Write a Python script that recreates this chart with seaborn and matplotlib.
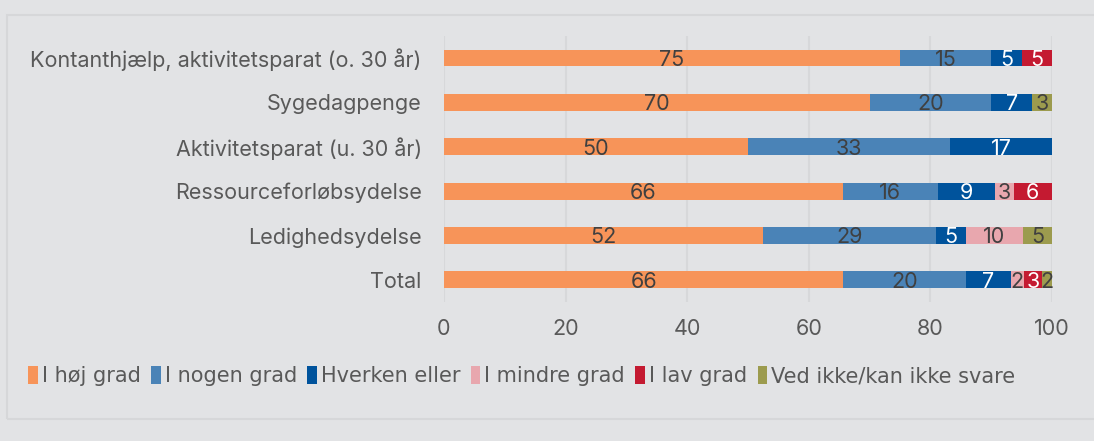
import matplotlib
matplotlib.use("Agg")
import matplotlib.pyplot as plt
import matplotlib.patches as mpatches
import seaborn as sns
import numpy as np

categories = ["Kontanthjælp, aktivitetsparat (o. 30 år)", "Sygedagpenge",
              "Aktivitetsparat (u. 30 år)", "Ressourceforløbsydelse",
              "Ledighedsydelse", "Total"]
series_names = ["I høj grad", "I nogen grad", "Hverken eller", "I mindre grad",
                "I lav grad", "Ved ikke/kan ikke svare"]
hoj_grad = [75.0, 70.0, 50.0, 65.6, 52.4, 65.7]
nogen_grad = [15.0, 20.0, 33.3, 15.6, 28.6, 20.2]
hverken = [5.0, 6.7, 16.7, 9.4, 4.8, 7.3]
mindre_grad = [0.0, 0.0, 0.0, 3.1, 9.5, 2.2]
lav_grad = [5.0, 0.0, 0.0, 6.3, 0.0, 3.0]
ved_ikke = [0.0, 3.3, 0.0, 0.0, 4.8, 1.6]
xticks = [0, 20, 40, 60, 80, 100]

colors = ["#F79459", "#4A83B7", "#00539C", "#E8A7AE", "#C41A31", "#9C9B4E"]
text_colors = ["#404040", "#404040", "#FFFFFF", "#404040", "#FFFFFF", "#404040"]

sns.set_theme(style="white")
plt.rcParams["font.family"] = ["Inter", "DejaVu Sans"]

BG = "#E2E3E5"
fig = plt.figure(figsize=(10.94, 4.41), dpi=100, facecolor=BG)
# panel border
fig.patches.append(mpatches.Rectangle((7 / 1094, 1 - 419 / 441), 1.2, (419 - 15) / 441,
                                      transform=fig.transFigure, facecolor="none",
                                      edgecolor="#D6D7D9", linewidth=1.5, zorder=-10))
ax = fig.add_axes([444 / 1094, 1 - 302 / 441, 608 / 1094, (302 - 35.8) / 441])
ax.set_facecolor(BG)
ax.patch.set_alpha(0)

data = np.array([hoj_grad, nogen_grad, hverken, mindre_grad, lav_grad, ved_ikke])
cum = np.cumsum(data, axis=0)

for i in range(len(series_names) - 1, -1, -1):
    sns.barplot(x=cum[i], y=categories, color=colors[i], orient="h", width=0.38,
                saturation=1, ax=ax, zorder=3, linewidth=0, edgecolor="none")

for i in range(len(series_names)):
    for j in range(len(categories)):
        v = data[i, j]
        if v <= 0:
            continue
        ax.text(cum[i, j] - v / 2, j, f"{v:.0f}", ha="center", va="center_baseline",
                fontsize=15.5, color=text_colors[i], zorder=5)

ax.set_xlim(0, 100)
ax.set_ylim(5.5, -0.5)
ax.set_xticks(xticks)
ax.set_xticklabels([str(t) for t in xticks])
ax.grid(axis="x", color="#D7D8DA", linewidth=1.5, zorder=0)
ax.set_axisbelow(True)
for s in ax.spines.values():
    s.set_visible(False)
ax.tick_params(axis="x", length=0, pad=12, labelsize=15.5, labelcolor="#595959")
ax.tick_params(axis="y", length=0, pad=16, labelsize=15.5, labelcolor="#595959")
ax.set_xlabel("")
ax.set_ylabel("")

handles = [mpatches.Patch(facecolor=c, edgecolor="none") for c in colors]
fig.legend(handles, series_names, loc="center left", bbox_to_anchor=(20 / 1094, 1 - 376 / 441),
           ncol=6, frameon=False, handlelength=0.45, handleheight=1.0,
           handletextpad=0.2, columnspacing=0.5, borderaxespad=0,
           prop={"family": ["DejaVu Sans"], "size": 15},
           labelcolor="#595959")

fig.savefig("out.png", dpi=100, facecolor=BG)
